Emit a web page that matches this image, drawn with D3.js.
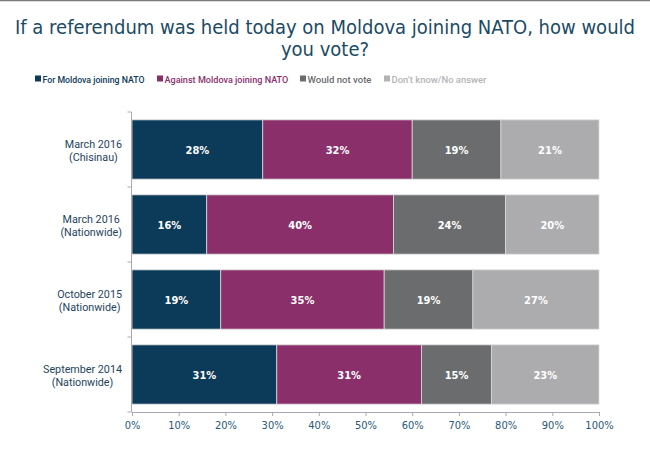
<!DOCTYPE html>
<html>
<head>
<meta charset="utf-8">
<script src="https://cdn.jsdelivr.net/npm/d3@7"></script>
<style>
  body { margin: 0; background: #fff; }
  svg { display: block; }
</style>
</head>
<body>
<div id="chart"></div>
<script>
let width = 650;
let height = 467;
let font = '"DejaVu Sans Condensed", "DejaVu Sans", sans-serif';
let narrow = 'Roboto, "DejaVu Sans Condensed", sans-serif';

// data
let titleLines = ['If a referendum was held today on Moldova joining NATO, how would', 'you vote?'];
let surveys = [['March 2016', '(Chisinau)'], ['March 2016', '(Nationwide)'], ['October 2015', '(Nationwide)'], ['September 2014', '(Nationwide)']];
let answers = ['For Moldova joining NATO', 'Against Moldova joining NATO', 'Would not vote', 'Don\u2019t know/No answer'];
let forNato = [28, 16, 19, 31];
let againstNato = [32, 40, 35, 31];
let wouldNotVote = [19, 24, 19, 15];
let dontKnow = [21, 20, 27, 23];
let xTicks = [0, 10, 20, 30, 40, 50, 60, 70, 80, 90, 100];

let colors = ['#0c3a59', '#8b2f6b', '#6b6c6e', '#acacae'];
let legendColors = ['#0c3a59', '#8b2f6b', '#6b6c6e', '#b4b4b6'];

let series = [forNato, againstNato, wouldNotVote, dontKnow];
let rows = surveys.map(function(s, i){
  let r = {key: i};
  answers.forEach(function(a, j){ r[a] = series[j][i]; });
  return r;
});
let stacked = d3.stack().keys(answers)(rows);

let viz = d3.select('#chart')
  .append('svg')
  .attr('width', width)
  .attr('height', height);

// shrink the font of a text until it is at most maxW wide
function fit(node, maxW){
  let el = d3.select(node);
  let w = node.getComputedTextLength();
  if(w > maxW){ el.attr('font-size', +el.attr('font-size') * maxW / w); }
}

// top border line
viz.append('line')
  .attr('x1', 0).attr('x2', width)
  .attr('y1', 0.5).attr('y2', 0.5)
  .attr('stroke', '#7a7a7a')
  .attr('stroke-width', 1.5);

let x = d3.scaleLinear().domain([0, 100]).range([132, 599]);
let y = d3.scaleBand().domain(d3.range(surveys.length)).range([112, 412])
  .paddingInner(0.21).paddingOuter(0.105);

// title
viz.selectAll('.title').data(titleLines).enter()
  .append('text')
  .attr('class', 'title')
  .attr('x', 325)
  .attr('y', function(d, i){ return 34 + i * 22; })
  .attr('text-anchor', 'middle')
  .attr('font-family', font)
  .attr('font-size', 20)
  .attr('fill', '#1b4a66')
  .text(function(d){ return d; });

// legend
let legendX = [35, 157, 300, 384];
let legendW = [102, 124, 64, 95];
let legend = viz.selectAll('.legend').data(answers).enter()
  .append('g')
  .attr('class', 'legend')
  .attr('transform', function(d, i){ return 'translate(' + legendX[i] + ',79)'; });
legend.append('rect')
  .attr('x', 0).attr('y', -3.5)
  .attr('width', 6).attr('height', 6)
  .attr('fill', function(d, i){ return legendColors[i]; });
legend.append('text')
  .attr('x', 7.5)
  .attr('y', 4)
  .attr('font-family', narrow)
  .attr('font-size', 11.5)
  .attr('font-weight', 500)
  .attr('fill', function(d, i){ return legendColors[i]; })
  .text(function(d){ return d; })
  .each(function(d, i){ fit(this, legendW[i]); });

// bars
let layers = viz.selectAll('.layer').data(stacked).enter()
  .append('g')
  .attr('class', 'layer')
  .attr('fill', function(d, i){ return colors[i]; });

layers.selectAll('rect').data(function(d){ return d; }).enter()
  .append('rect')
  .attr('x', function(d){ return x(d[0]); })
  .attr('y', function(d, i){ return y(i); })
  .attr('width', function(d){ return x(d[1]) - x(d[0]); })
  .attr('height', y.bandwidth())
  .attr('stroke', '#d9d9d9')
  .attr('stroke-width', 0.8);

layers.selectAll('.val').data(function(d){ return d; }).enter()
  .append('text')
  .attr('class', 'val')
  .attr('x', function(d){ return (x(d[0]) + x(d[1])) / 2; })
  .attr('y', function(d, i){ return y(i) + y.bandwidth() / 2 + 4; })
  .attr('text-anchor', 'middle')
  .attr('font-family', font)
  .attr('font-size', 11)
  .attr('font-weight', 'bold')
  .attr('fill', '#fff')
  .text(function(d){ return (d[1] - d[0]) + '%'; });

// x axis
let xAxis = viz.append('g')
  .attr('transform', 'translate(0,412)')
  .call(d3.axisBottom(x).tickValues(xTicks).tickSize(4).tickSizeOuter(0)
    .tickFormat(function(d){ return d + '%'; }));
xAxis.select('.domain').attr('stroke', '#a9a9b4');
xAxis.selectAll('.tick line').attr('stroke', '#a9a9b4');
xAxis.selectAll('.tick text')
  .attr('font-family', font)
  .attr('font-size', 11)
  .attr('fill', '#2a5878')
  .attr('dy', '0.95em');

// y axis: boundary ticks between categories
viz.append('line')
  .attr('x1', x(0) - 0.5).attr('x2', x(0) - 0.5)
  .attr('y1', y.range()[0]).attr('y2', y.range()[1])
  .attr('stroke', '#a9a9b4');
viz.selectAll('.ytick').data(d3.range(surveys.length + 1)).enter()
  .append('line')
  .attr('class', 'ytick')
  .attr('x1', x(0) - 4.5).attr('x2', x(0) - 0.5)
  .attr('y1', function(d){ return y.range()[0] + d * y.step(); })
  .attr('y2', function(d){ return y.range()[0] + d * y.step(); })
  .attr('stroke', '#a9a9b4');

// category labels: each block centred, block right edge at 122
let cat = viz.selectAll('.cat').data(surveys).enter()
  .append('text')
  .attr('class', 'cat')
  .attr('text-anchor', 'middle')
  .attr('font-family', narrow)
  .attr('font-size', 12.5)
  .attr('fill', '#1f4460');
cat.selectAll('tspan').data(function(d, i){ return d.map(function(t){ return {t: t, i: i}; }); }).enter()
  .append('tspan')
  .attr('y', function(d, j){ return y(d.i) + y.bandwidth() / 2 - 2 + j * 13; })
  .text(function(d){ return d.t; });
// keep the widest label ("September 2014") near 79px
let widest = 0;
cat.selectAll('tspan').each(function(){ widest = Math.max(widest, this.getComputedTextLength()); });
if(widest > 79){ cat.attr('font-size', 12.5 * 79 / widest); }
cat.each(function(){
  let maxW = 0;
  let spans = d3.select(this).selectAll('tspan');
  spans.each(function(){ maxW = Math.max(maxW, this.getComputedTextLength()); });
  spans.attr('x', 122 - maxW / 2);
});
</script>
</body>
</html>
